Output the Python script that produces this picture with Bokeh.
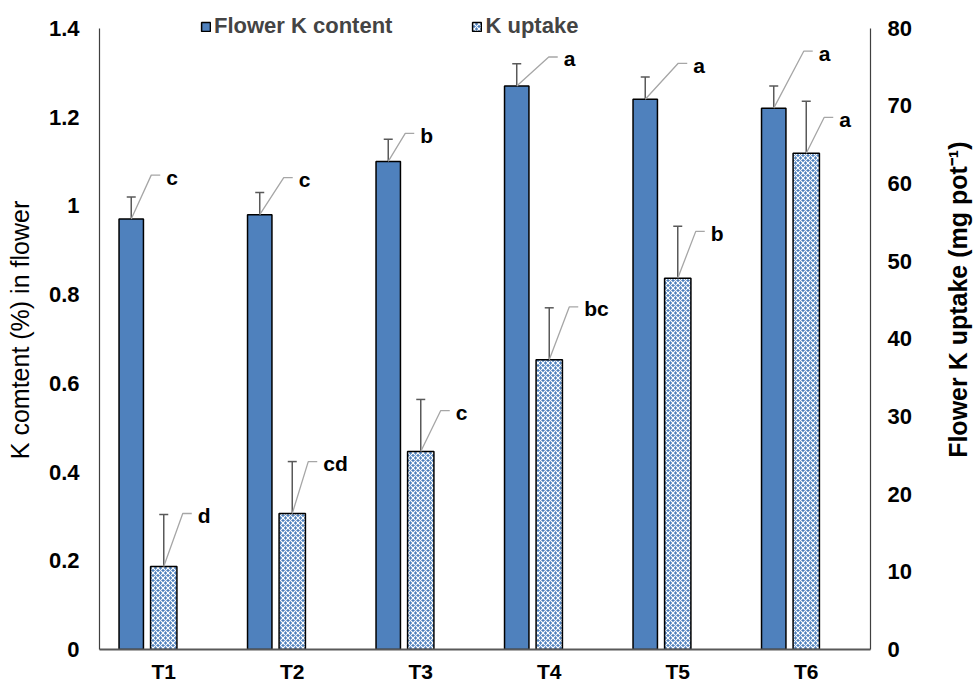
import math
import numpy as np
from bokeh.plotting import figure
from bokeh.layouts import row
from bokeh.models import (Range1d, LinearAxis, FixedTicker, CustomJSTickFormatter,
                          Whisker, TeeHead, ColumnDataSource, Legend, LegendItem)
from bokeh.core.properties import value
from bokeh.embed import file_html
from bokeh.resources import INLINE

# ---------------- data ----------------
categories = ["T1", "T2", "T3", "T4", "T5", "T6"]
k_content = [0.97, 0.98, 1.10, 1.27, 1.24, 1.22]          # % (left axis)
k_content_err = [0.05, 0.05, 0.05, 0.05, 0.05, 0.05]
k_content_letters = ["c", "c", "b", "a", "a", "a"]
k_uptake = [10.7, 17.5, 25.5, 37.3, 47.8, 63.9]           # mg pot-1 (right axis)
k_uptake_err = [6.7, 6.7, 6.7, 6.7, 6.7, 6.7]
k_uptake_letters = ["d", "cd", "c", "bc", "b", "a"]
left_ticks = [0, 0.2, 0.4, 0.6, 0.8, 1.0, 1.2, 1.4]
right_ticks = [0, 10, 20, 30, 40, 50, 60, 70, 80]
left_title = "K comtent (%) in flower"
right_title = "Flower K uptake (mg pot⁻¹)"

# ---------------- styles / layout ----------------
FONT = "Liberation Sans"
BLUE = "#4f81bd"
ERR = "#595959"
LEADER = "#a6a6a6"
TITLE_W = 30                  # narrow strip that carries the right-hand title
W, H = 974 - TITLE_W, 685
ML, MR, MT, MB = 99, 74, 10, 35
FRAME_W = W - ML - MR
FRAME_H = H - MT - MB
LEFT_END = 1.44
RIGHT_END = 80 * LEFT_END / 1.4
X_PPU = FRAME_W / len(categories)
L_PPU = FRAME_H / LEFT_END
R_PPU = FRAME_H / RIGHT_END

# leader-line elbow offsets (pixels) for the significance labels
blue_dx = [20, 24, 17, 32, 33, 30]
blue_dy = [44, 37, 28, 29, 36, 57]
hat_dx = [19, 16, 20, 20, 18, 18]
hat_dy = [53, 52, 41, 53, 47, 36]
HSEG = 9
TGAP = 6

cx = np.arange(len(categories)) + 0.5
bx = cx - 0.253
hx = cx

p = figure(width=W, height=H, x_range=Range1d(0, len(categories)),
           y_range=Range1d(0, LEFT_END), output_backend="svg",
           toolbar_location=None, min_border_left=ML, min_border_right=MR,
           min_border_top=MT, min_border_bottom=MB)
p.extra_y_ranges = {"right": Range1d(0, RIGHT_END)}
p.outline_line_color = None
p.xgrid.visible = False
p.ygrid.visible = False
p.background_fill_color = "white"

# bars
r1 = p.vbar(x=bx, top=k_content, width=0.19, fill_color=BLUE,
            line_color="black", line_width=1.5)
r2 = p.vbar(x=hx, top=k_uptake, width=0.205, y_range_name="right",
            fill_color=BLUE, hatch_pattern="x", hatch_color="white",
            hatch_scale=5, hatch_weight=1.1,
            line_color="black", line_width=1.5)

# error bars
src_b = ColumnDataSource(dict(x=bx,
                              up=np.array(k_content) + np.array(k_content_err),
                              lo=np.array(k_content) - np.array(k_content_err)))
src_h = ColumnDataSource(dict(x=hx,
                              up=np.array(k_uptake) + np.array(k_uptake_err),
                              lo=np.array(k_uptake) - np.array(k_uptake_err)))
for src, rn in ((src_b, "default"), (src_h, "right")):
    wk = Whisker(source=src, base="x", upper="up", lower="lo",
                 line_color=ERR, line_width=1.5, y_range_name=rn,
                 upper_head=TeeHead(size=9, line_color=ERR, line_width=1.5),
                 lower_head=TeeHead(size=9, line_color=ERR, line_width=1.5))
    p.add_layout(wk)

# leader lines + letters
def leaders(xs, tops, dxs, dys, ppu, letters, rn):
    lx, ly, tx, ty = [], [], [], []
    for x, t, dx, dy in zip(xs, tops, dxs, dys):
        ex = x + dx / X_PPU
        ey = t + dy / ppu
        lx.append([x, ex, ex + HSEG / X_PPU])
        ly.append([t, ey, ey])
        tx.append(ex + (HSEG + TGAP) / X_PPU)
        ty.append(ey)
    kw = {} if rn == "default" else {"y_range_name": rn}
    p.multi_line(xs=lx, ys=ly, line_color=LEADER, line_width=1.3, **kw)
    p.text(x=tx, y=ty, text=letters, text_font=value(FONT),
           text_font_style="bold", text_font_size="21px",
           text_baseline="middle", text_align="left", y_offset=2,
           text_color="black", **kw)

leaders(bx, k_content, blue_dx, blue_dy, L_PPU, k_content_letters, "default")
leaders(hx, k_uptake, hat_dx, hat_dy, R_PPU, k_uptake_letters, "right")

# axes
def style_axis(ax, tick_font="22px"):
    ax.major_tick_line_color = None
    ax.minor_tick_line_color = None
    ax.major_tick_out = 0
    ax.major_tick_in = 0
    ax.minor_tick_out = 0
    ax.major_label_text_font = FONT
    ax.major_label_text_font_style = "bold"
    ax.major_label_text_font_size = tick_font
    ax.major_label_text_color = "black"
    ax.axis_label_text_font = FONT
    ax.axis_label_text_color = "black"

xa = p.xaxis[0]
style_axis(xa, "21px")
xa.ticker = FixedTicker(ticks=list(cx))
xa.formatter = CustomJSTickFormatter(args=dict(labels=categories),
                                     code="return labels[Math.floor(tick)];")
xa.axis_line_color = "#595959"
xa.axis_line_width = 2
xa.major_label_standoff = 10

ya = p.yaxis[0]
style_axis(ya)
ya.ticker = FixedTicker(ticks=left_ticks)
ya.bounds = (0, 1.4)
ya.formatter = CustomJSTickFormatter(code="return String(Math.round(tick*10)/10);")
ya.axis_line_color = "#404040"
ya.axis_line_width = 1.2
ya.major_label_standoff = 20
ya.axis_label = left_title
ya.axis_label_text_font_style = "normal"
ya.axis_label_text_font_size = "25px"
ya.axis_label_standoff = 12

ra = LinearAxis(y_range_name="right", ticker=FixedTicker(ticks=right_ticks),
                bounds=(0, 80))
style_axis(ra)
ra.axis_line_color = "#404040"
ra.axis_line_width = 1.2
ra.major_label_standoff = 17
p.add_layout(ra, "right")

# legend
legend = Legend(items=[LegendItem(label="Flower K content", renderers=[r1]),
                       LegendItem(label="K uptake", renderers=[r2])],
                location=(101, FRAME_H - 30), orientation="horizontal",
                spacing=79, padding=0, margin=0, glyph_width=11, glyph_height=11,
                label_standoff=3, label_text_font=FONT,
                label_text_font_size="22px", label_text_font_style="bold",
                border_line_color=None, background_fill_alpha=0)
p.add_layout(legend)

# right-hand axis title, reading bottom-to-top like the left one
pt = figure(width=TITLE_W, height=H, x_range=Range1d(0, TITLE_W),
            y_range=Range1d(0, H), x_axis_type=None, y_axis_type=None,
            output_backend="svg", toolbar_location=None, min_border=0)
pt.outline_line_color = None
pt.grid.visible = False
pt.text(x=[13], y=[H - 310], text=[right_title], angle=math.pi / 2,
        text_font=value(FONT), text_font_style="bold", text_font_size="25px",
        text_align="center", text_baseline="middle", text_color="black")

layout = row(p, pt, spacing=0)
open("out.html", "w").write(file_html(layout, INLINE))
